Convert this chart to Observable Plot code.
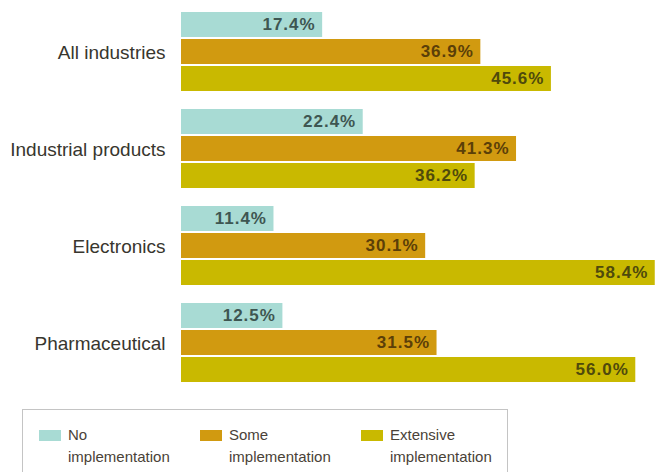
<!DOCTYPE html>
<html><head><meta charset="utf-8">
<script src="https://cdn.jsdelivr.net/npm/d3@7"></script>
<script src="https://cdn.jsdelivr.net/npm/@observablehq/plot@0.6"></script>
<style>
body{margin:0;background:#fff;font-family:"Liberation Sans",Arial,Helvetica,sans-serif;}
#legend{position:absolute;left:22px;top:409px;width:484px;height:80px;border:1px solid #c4c4c4;border-bottom:none;}
.item{position:absolute;top:14px;display:flex;align-items:flex-start;font-size:15px;line-height:22px;color:#4a4238;}
.sw{width:22px;height:11px;margin-top:6px;margin-right:7px;flex:none;}
.vlab text{letter-spacing:1px;}
</style></head>
<body>
<div id="chart"></div>
<div id="legend"></div>
<script>
const industries = ["All industries", "Industrial products", "Electronics", "Pharmaceutical"];
const series = ["No implementation", "Some implementation", "Extensive implementation"];
const noImpl = [17.4, 22.4, 11.4, 12.5];
const someImpl = [36.9, 41.3, 30.1, 31.5];
const extensiveImpl = [45.6, 36.2, 58.4, 56.0];
const legendLines = [["No", "implementation"], ["Some", "implementation"], ["Extensive", "implementation"]];

const colors = ["#a8dbd4", "#d19a10", "#c9b900"];
const labelColors = ["#3e5651", "#5b3f08", "#4f4a0c"];

const values = [noImpl, someImpl, extensiveImpl];
const data = [];
industries.forEach((ind, i) => series.forEach((s, j) => data.push({industry: ind, series: s, value: values[j][i]})));

const chart = Plot.plot({
  width: 658,
  height: 395,
  marginLeft: 181,
  marginRight: 0,
  marginTop: 10,
  marginBottom: 10,
  x: {domain: [0, 58.8], axis: null},
  y: {domain: series, axis: null, paddingInner: 0.06, paddingOuter: 0},
  fy: {domain: industries, paddingInner: 0.173, paddingOuter: 0, axis: null},
  color: {domain: series, range: colors},
  marks: [
    Plot.barX(data, {fy: "industry", y: "series", x: "value", fill: "series"}),
    Plot.text(data, {fy: "industry", y: "series", x: "value", text: d => d.value.toFixed(1) + "%",
      textAnchor: "end", dx: -7, fontSize: 17, fontWeight: "bold", className: "vlab",
      fill: d => labelColors[series.indexOf(d.series)]}),
    Plot.axisFy({anchor: "left", tickSize: 0, tickPadding: 16, label: null, fontSize: 19, fill: "#38362e"})
  ],
  style: {fontFamily: "'Liberation Sans', Arial, Helvetica, sans-serif", background: "#fff"}
});
document.getElementById("chart").appendChild(chart);

const legend = document.getElementById("legend");
series.forEach((s, j) => {
  const it = document.createElement("div");
  it.className = "item";
  it.style.left = (16 + j * 161) + "px";
  const sw = document.createElement("div");
  sw.className = "sw";
  sw.style.background = colors[j];
  const tx = document.createElement("div");
  tx.innerHTML = legendLines[j].join("<br>");
  it.appendChild(sw); it.appendChild(tx);
  legend.appendChild(it);
});
</script>
</body></html>
